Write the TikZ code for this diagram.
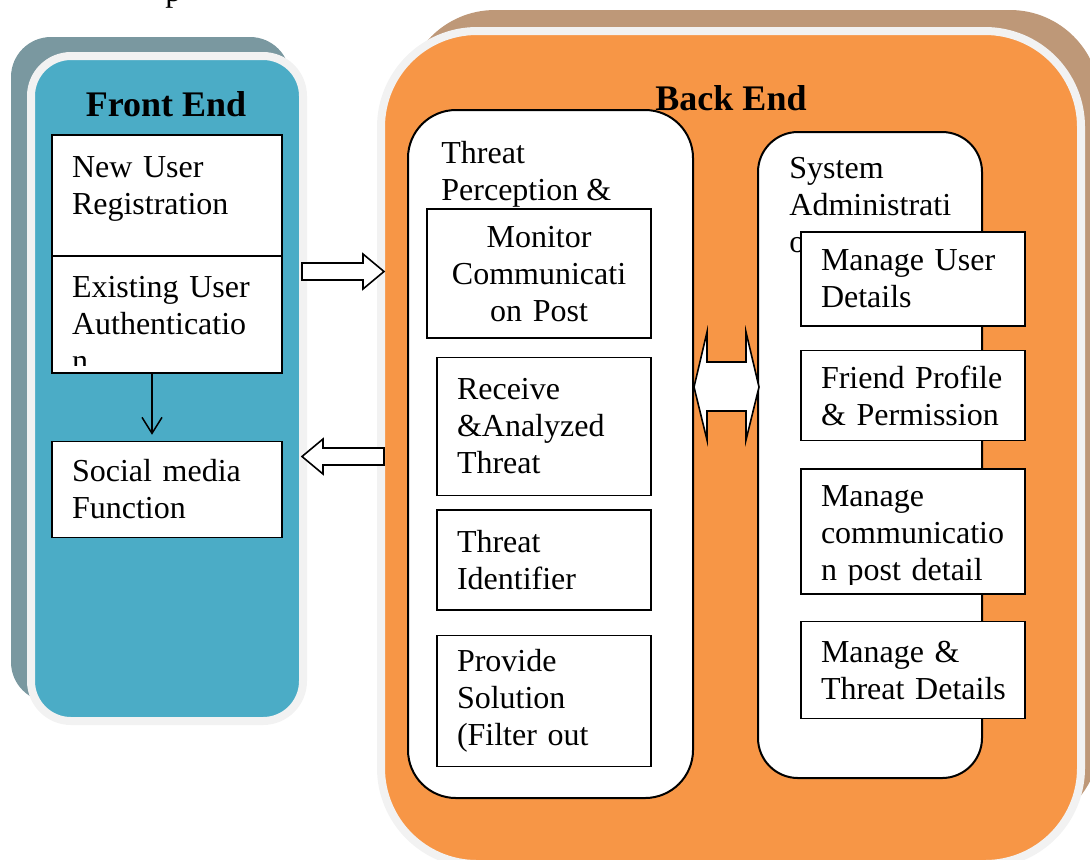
\documentclass[tikz,border=0pt]{standalone}
\usepackage{fontspec}
\setmainfont{Liberation Serif}
\usepackage{tikz}
\usetikzlibrary{arrows.meta, positioning}
\definecolor{frontblue}{HTML}{4BACC6}
\definecolor{backorange}{HTML}{F79646}
\definecolor{rimgray}{HTML}{F2F2F2}
\definecolor{frontshade}{RGB}{122,152,160}
\definecolor{backshade}{RGB}{190,152,120}
\newcommand{\bodyfont}{\fontsize{16}{18.5}\selectfont}
\newcommand{\headfont}{\fontsize{18}{21}\selectfont\bfseries}

\begin{document}
\begin{tikzpicture}[
    x=0.5pt, y=-0.5pt,
    panel/.style={line width=4pt, draw=rimgray},
    stage/.style={draw, fill=white, line width=1pt},
    item/.style={rectangle, draw, fill=white, line width=0.75pt, inner xsep=10pt, inner ysep=0pt, font=\bodyfont},
    % a line may run a few points into the right margin instead of breaking
    snug/.style={execute at begin node={\rightskip=0pt minus 5pt\relax}},
    note/.style={anchor=north west, inner sep=0pt, align=left, font=\bodyfont},
    title/.style={anchor=base, inner sep=0pt, font=\headfont},
    flow/.style={-{Straight Barb[length=8pt, width=10pt]}, line width=0.75pt, shorten >=3pt},
    blockarrow/.style={draw, fill=white, line width=0.8pt, line join=miter}
]
    \useasboundingbox (0,0) rectangle (1090,859);
    \node[anchor=base west, inner sep=0pt, font=\bodyfont] (caption) at (165,1) {p};

    % shadows and the two big panels
    \fill[frontshade, rounded corners=20pt] (11,37) rectangle (290,702);
    \fill[backshade, rounded corners=45pt] (405,10) rectangle (1100,830);
    \draw[panel, fill=frontblue, rounded corners=20pt] (31,56) rectangle (303,721);
    \draw[panel, fill=backorange, rounded corners=48pt] (381,31) rectangle (1081,864);

    \node[title] (fronttitle) at (166,116) {Front End};
    \node[title] (backtitle) at (731,110) {Back End};

    % front end
    \node[item, text width=95pt, minimum height=60.5pt, text depth=28pt] (reg) at (167,195.5) {New User\\Registration};
    \node[item, text width=95pt, minimum height=58.5pt, below=-0.75pt of reg] (auth) {};
    \begin{scope}
        \clip (auth.north west) rectangle ([yshift=4pt]auth.south east);
        \node[item, draw=none, fill=none, text width=95pt, yshift=-4.5pt] (authtext) at (auth.center) {Existing User\\Authenticatio\\n};
    \end{scope}
    \node[item, text width=95pt, minimum height=48pt, below=33.5pt of auth] (social) {Social media\\Function};
    \draw[flow] ([xshift=-7.5pt]auth.south) -- ([xshift=-7.5pt]social.north);

    % back end panels
    \draw[stage, rounded corners=24pt] (408,110) rectangle (693,798);
    \draw[stage, rounded corners=20pt] (758,132) rectangle (982,778);
    \node[note] (perception) at (441,141) {Threat\\Perception \&};
    \node[note] (sysadmin) at (789,157) {System\\Administrati\\o};

    % threat perception column
    \node[item, align=center, text width=92pt, minimum height=64.5pt, text depth=36.5pt] (monitor) at (539,273.5) {Monitor\\Communicati\\on Post};
    \node[item, text width=87pt, minimum height=69pt, below=9pt of monitor.south east, anchor=north east] (receive) {Receive\\\&Analyzed\\Threat};
    \node[item, text width=87pt, minimum height=50pt, below=6.5pt of receive] (ident) {Threat\\Identifier};
    \node[item, text width=87pt, minimum height=65.5pt, below=12pt of ident] (solution) {Provide\\Solution\\(Filter out};

    % system administration column
    \node[item, text width=92pt, minimum height=47pt] (userdet) at (913,279) {Manage User\\Details};
    \node[item, text width=92pt, minimum height=45pt, below=11.5pt of userdet] (friend) {Friend Profile\\\& Permission};
    \node[item, text width=92pt, minimum height=62.5pt, below=13.5pt of friend] (commdet) {};
    \begin{scope}
        \clip (commdet.north west) rectangle ([yshift=5pt]commdet.south east);
        \node[item, draw=none, fill=none, text width=92pt, yshift=-2.5pt] (commtext) at (commdet.center) {Manage\\communicatio\\n post detail};
    \end{scope}
    \node[item, snug, text width=92pt, minimum height=48.5pt, below=13pt of commdet] (threatdet) {Manage \&\\Threat Details};

    % block arrows
    \draw[blockarrow] (302,263) -- (363,263) -- (363,254) -- (384,271.5) -- (363,289) -- (363,280) -- (302,280) -- cycle;
    \draw[blockarrow] (384,448) -- (323,448) -- (323,439) -- (302,456.5) -- (323,474) -- (323,465) -- (384,465) -- cycle;
    \draw[blockarrow] (694,387) -- (707,332) -- (707,362) -- (746,362) -- (746,332) -- (759,387) -- (746,440) -- (746,411) -- (707,411) -- (707,440) -- cycle;
\end{tikzpicture}
\end{document}
